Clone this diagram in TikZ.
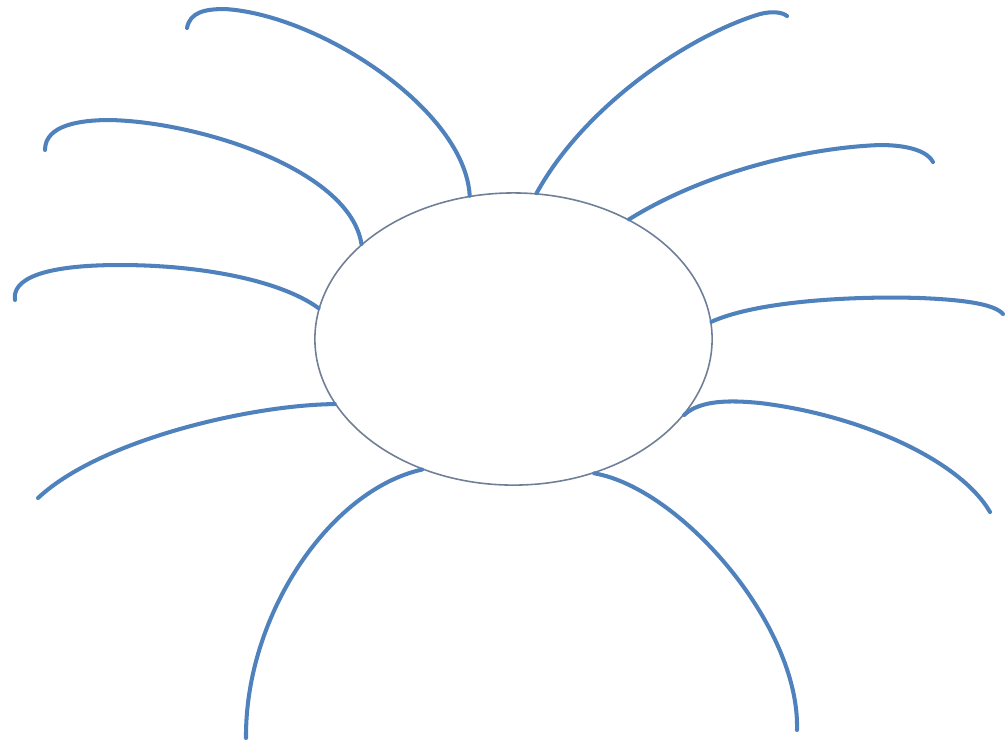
\documentclass[tikz,border=0pt]{standalone}
\usetikzlibrary{shapes.geometric}
\definecolor{azulrama}{RGB}{79,129,189}
\definecolor{grisborde}{RGB}{112,126,150}
\tikzset{
  rama/.style={draw=azulrama, line width=1.15pt, line cap=round},
  centro/.style={ellipse, draw=grisborde, line width=0.45pt, fill=white,
                 minimum width=3.97cm, minimum height=2.92cm, inner sep=0pt}
}
\begin{document}
\begin{tikzpicture}[x=0.01cm, y=-0.01cm, line cap=round]
  \useasboundingbox (0,0) rectangle (1006,747);
  % ── óvalo central ──
  \node[centro] (centro) at (513.5,339) {};
  % ── extremos libres de las ramas ──
  \coordinate (r1) at (187,28);
  \coordinate (r2) at (45,150);
  \coordinate (r3) at (15,300);
  \coordinate (r4) at (38,498);
  \coordinate (r5) at (246,738);
  \coordinate (r6) at (797,730);
  \coordinate (r7) at (990,512);
  \coordinate (r8) at (1003,314);
  \coordinate (r9) at (933,162);
  \coordinate (r10) at (787,16);
  % ── ramas del lado izquierdo ──
  \draw[rama] (centro.107) .. controls (465,110) and (320,15) .. (225,9)
              .. controls (205,9) and (190,12) .. (r1);
  \draw[rama] (centro.148) .. controls (350,170) and (200,122) .. (110,120)
              .. controls (80,120) and (45,125) .. (r2);
  \draw[rama] (centro.171) .. controls (280,280) and (200,265) .. (120,265)
              .. controls (40,265) and (12,280) .. (r3);
  \draw[rama] (centro.200) .. controls (250,405) and (100,440) .. (r4);
  % ── ramas de abajo ──
  \draw[rama] (centro.-125) .. controls (330,490) and (245,615) .. (r5);
  \draw[rama] (centro.-59.5) .. controls (680,488) and (800,625) .. (r6);
  % ── ramas del lado derecho ──
  \draw[rama] (centro.-24.5) .. controls (700,400) and (730,400) .. (760,403)
              .. controls (860,415) and (960,460) .. (r7);
  \draw[rama] (centro.5.5) .. controls (760,300) and (860,296) .. (920,298)
              .. controls (970,300) and (995,305) .. (r8);
  \draw[rama] (centro.46) .. controls (700,175) and (800,148) .. (880,145)
              .. controls (910,145) and (928,152) .. (r9);
  \draw[rama] (centro.81) .. controls (585,105) and (690,35) .. (760,14)
              .. controls (772,11) and (782,12) .. (r10);
\end{tikzpicture}
\end{document}
